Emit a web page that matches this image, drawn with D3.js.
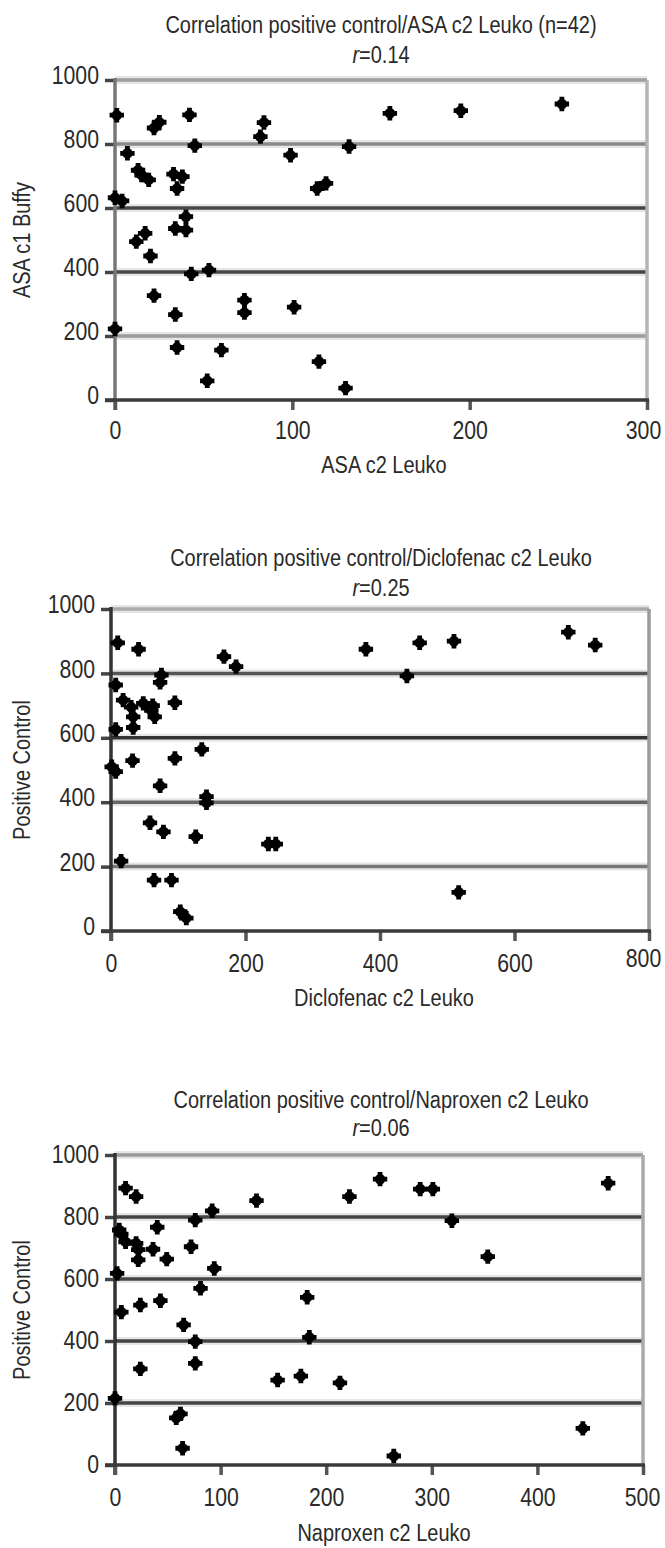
<!DOCTYPE html>
<html>
<head>
<meta charset="utf-8">
<script src="https://cdn.jsdelivr.net/npm/d3@7/dist/d3.min.js"></script>
<style>
  body { margin: 0; background: #fff; }
  svg text { font-family: "Liberation Sans", Arial, sans-serif; fill: #2a2a2a; }
</style>
</head>
<body>
<div id="chart"></div>
<script>
// values
const yTicks = [0, 200, 400, 600, 800, 1000];
const asaTicks = [0, 100, 200, 300];
const diclTicks = [0, 200, 400, 600, 800];
const napTicks = [0, 100, 200, 300, 400, 500];

const asaPoints = [
  [1, 890], [7, 771], [13, 718], [15, 703], [19, 688], [22, 850], [25, 868], [42, 891], [45, 795],
  [33, 706], [38, 698], [35, 661], [82, 823], [84, 867], [99, 765], [132, 792], [114, 661], [119, 677],
  [155, 896], [195, 904], [252, 925],
  [0, 632], [4, 622], [12, 495], [17, 521], [20, 450], [34, 536], [40, 531], [40, 573], [43, 394],
  [53, 406], [22, 326], [34, 267], [73, 312], [73, 273], [101, 290], [0, 222], [35, 164], [60, 156],
  [52, 60], [115, 120], [130, 37]
];

const diclPoints = [
  [10, 895], [41, 875], [168, 852], [186, 821], [379, 875], [459, 895], [510, 900], [680, 928], [720, 888],
  [440, 792], [7, 764], [18, 717], [75, 795], [73, 772], [95, 709], [7, 626],
  [30, 695], [33, 665], [33, 632], [48, 707], [62, 700], [65, 665], [60, 685],
  [1, 510], [7, 495], [32, 529], [95, 536], [135, 564], [73, 451], [142, 417], [142, 398],
  [58, 336], [78, 308], [126, 293], [234, 270], [245, 270], [15, 217], [64, 158], [90, 158],
  [103, 60], [112, 40], [517, 120]
];

const napPoints = [
  [10, 893], [20, 866], [4, 758], [6, 745], [10, 720], [20, 715], [22, 695], [22, 662], [40, 767],
  [36, 696], [49, 664], [2, 618], [6, 493], [24, 516], [43, 530], [24, 310], [0, 215],
  [72, 704], [76, 790], [92, 820], [94, 634], [81, 570], [65, 452], [76, 398], [76, 328],
  [58, 152], [62, 165], [64, 54], [264, 29], [443, 118],
  [134, 853], [154, 274], [176, 287], [182, 541], [184, 412], [213, 265], [222, 866], [251, 922],
  [289, 890], [301, 890], [319, 788], [353, 672], [467, 909]
];

const titles = [
  "Correlation positive control/ASA c2 Leuko (n=42)",
  "Correlation positive control/Diclofenac c2 Leuko",
  "Correlation positive control/Naproxen c2 Leuko"
];
const rValues = ["0.14", "0.25", "0.06"];
const xTitles = ["ASA c2 Leuko", "Diclofenac c2 Leuko", "Naproxen c2 Leuko"];
const yTitles = ["ASA c1 Buffy", "Positive Control", "Positive Control"];

// layout + look of each panel (the scan has uneven line greys)
const panels = [
  { points: asaPoints, xTicks: asaTicks, xMax: 300,
    left: 115, right: 647, top: 80, bottom: 400, titleY: 25, rY: 54, tickY: 430, xTitleY: 465, labShift: -5,
    lastNudge: [-4, 0],
    grid: { 200: "#9a9a9a", 400: "#474747", 600: "#474747", 800: "#8a8a8a", 1000: "#9d9d9d" },
    leftCol: "#777", rightCol: "#b5b5b5" },
  { points: diclPoints, xTicks: diclTicks, xMax: 800,
    left: 111, right: 649, top: 609, bottom: 931, titleY: 558, rY: 587, tickY: 963, xTitleY: 998, labShift: -5,
    lastNudge: [-6, -5],
    grid: { 200: "#777", 400: "#666", 600: "#333", 800: "#555", 1000: "#aaa" },
    leftCol: "#333", rightCol: "#9a9a9a" },
  { points: napPoints, xTicks: napTicks, xMax: 500,
    left: 115, right: 643, top: 1155, bottom: 1465, titleY: 1100, rY: 1127, tickY: 1497, xTitleY: 1533, labShift: -1,
    lastNudge: [-1, 0],
    grid: { 200: "#444", 400: "#444", 600: "#444", 800: "#444", 1000: "#9a9a9a" },
    leftCol: "#333", rightCol: "#aaa" }
];

const width = 665, height = 1548;
const squeeze = 0.85;   // the printed face is a narrow one
const fs = "23.5px";
const tickFs = "25px";

const svg = d3.select("#chart").append("svg")
  .attr("width", width)
  .attr("height", height);

const cross = d3.symbol().type(d3.symbolCross).size(115);

function narrowText(parent, x, y, rot) {
  return parent.append("text")
    .attr("transform", "translate(" + x + "," + y + ")" + (rot ? " rotate(" + rot + ")" : "") + " scale(" + squeeze + ",1)")
    .attr("text-anchor", "middle").attr("dominant-baseline", "central")
    .style("font-size", fs);
}

panels.forEach(function(p, i) {
  const x = d3.scaleLinear().domain([0, p.xMax]).range([p.left, p.right]);
  const y = d3.scaleLinear().domain([0, 1000]).range([p.bottom, p.top]);
  const g = svg.append("g");

  // titles
  narrowText(g, 381, p.titleY).text(titles[i]);
  const rt = narrowText(g, 381, p.rY);
  rt.append("tspan").style("font-style", "italic").text("r");
  rt.append("tspan").text("=" + rValues[i]);

  // gridlines, with a pale halo like the scan
  const gridVals = yTicks.filter(function(v) { return v > 0; });
  g.selectAll(".halo").data(gridVals).enter().append("line")
    .attr("x1", p.left).attr("x2", p.right)
    .attr("y1", function(d) { return y(d); }).attr("y2", function(d) { return y(d); })
    .attr("stroke", "#e6e6e6").attr("stroke-width", 8);
  g.selectAll(".grid").data(gridVals).enter().append("line")
    .attr("x1", p.left).attr("x2", p.right)
    .attr("y1", function(d) { return y(d); }).attr("y2", function(d) { return y(d); })
    .attr("stroke", function(d) { return p.grid[d]; }).attr("stroke-width", 3.5);

  // right border
  g.append("line")
    .attr("x1", x(p.xMax)).attr("x2", x(p.xMax))
    .attr("y1", y(1000)).attr("y2", y(0))
    .attr("stroke", p.rightCol).attr("stroke-width", 3.5);

  // y axis
  const yAxis = d3.axisLeft(y).tickValues(yTicks).tickSize(10).tickFormat(d3.format("d"));
  const ya = g.append("g").attr("transform", "translate(" + p.left + ",0)").call(yAxis);
  ya.select(".domain").remove();
  ya.selectAll(".tick line").attr("stroke", "#444").attr("stroke-width", 3.5);
  ya.selectAll(".tick text")
    .attr("x", 0).attr("dy", null)
    .attr("transform", "translate(-16," + p.labShift + ") scale(" + squeeze + ",1)")
    .attr("dominant-baseline", "central")
    .attr("font-family", null).attr("font-size", null).attr("fill", null)
    .style("font-size", tickFs);
  g.append("line")
    .attr("x1", p.left).attr("x2", p.left)
    .attr("y1", y(1000) - 2).attr("y2", y(0) + 10)
    .attr("stroke", p.leftCol).attr("stroke-width", 3.5);

  // x axis
  const xAxis = d3.axisBottom(x).tickValues(p.xTicks).tickSize(10).tickFormat(d3.format("d"));
  const xa = g.append("g").attr("transform", "translate(0," + p.bottom + ")").call(xAxis);
  xa.select(".domain").remove();
  xa.selectAll(".tick line").attr("stroke", "#555").attr("stroke-width", 3.5);
  const last = p.xTicks[p.xTicks.length - 1];
  xa.selectAll(".tick text")
    .attr("y", 0).attr("dy", null)
    .attr("transform", function(d) {
      const n = d === last ? p.lastNudge : [0, 0];
      return "translate(" + n[0] + "," + (p.tickY - p.bottom + n[1]) + ") scale(" + squeeze + ",1)";
    })
    .attr("dominant-baseline", "central")
    .attr("font-family", null).attr("font-size", null).attr("fill", null)
    .style("font-size", tickFs);
  g.append("line")
    .attr("x1", p.left - 10).attr("x2", p.right + 2)
    .attr("y1", y(0)).attr("y2", y(0))
    .attr("stroke", "#3a3a3a").attr("stroke-width", 3.5);

  // axis titles
  narrowText(g, 384, p.xTitleY).text(xTitles[i]);
  narrowText(g, 22, (p.top + p.bottom) / 2, -90).text(yTitles[i]);

  // markers: round dot with a small cross, as printed
  const m = g.selectAll(".pt").data(p.points).enter().append("g")
    .attr("transform", function(d) { return "translate(" + x(d[0]) + "," + y(d[1]) + ")"; });
  m.append("circle").attr("r", 5.3).attr("fill", "#000");
  m.append("path").attr("d", cross).attr("fill", "#000");
});
</script>
</body>
</html>
